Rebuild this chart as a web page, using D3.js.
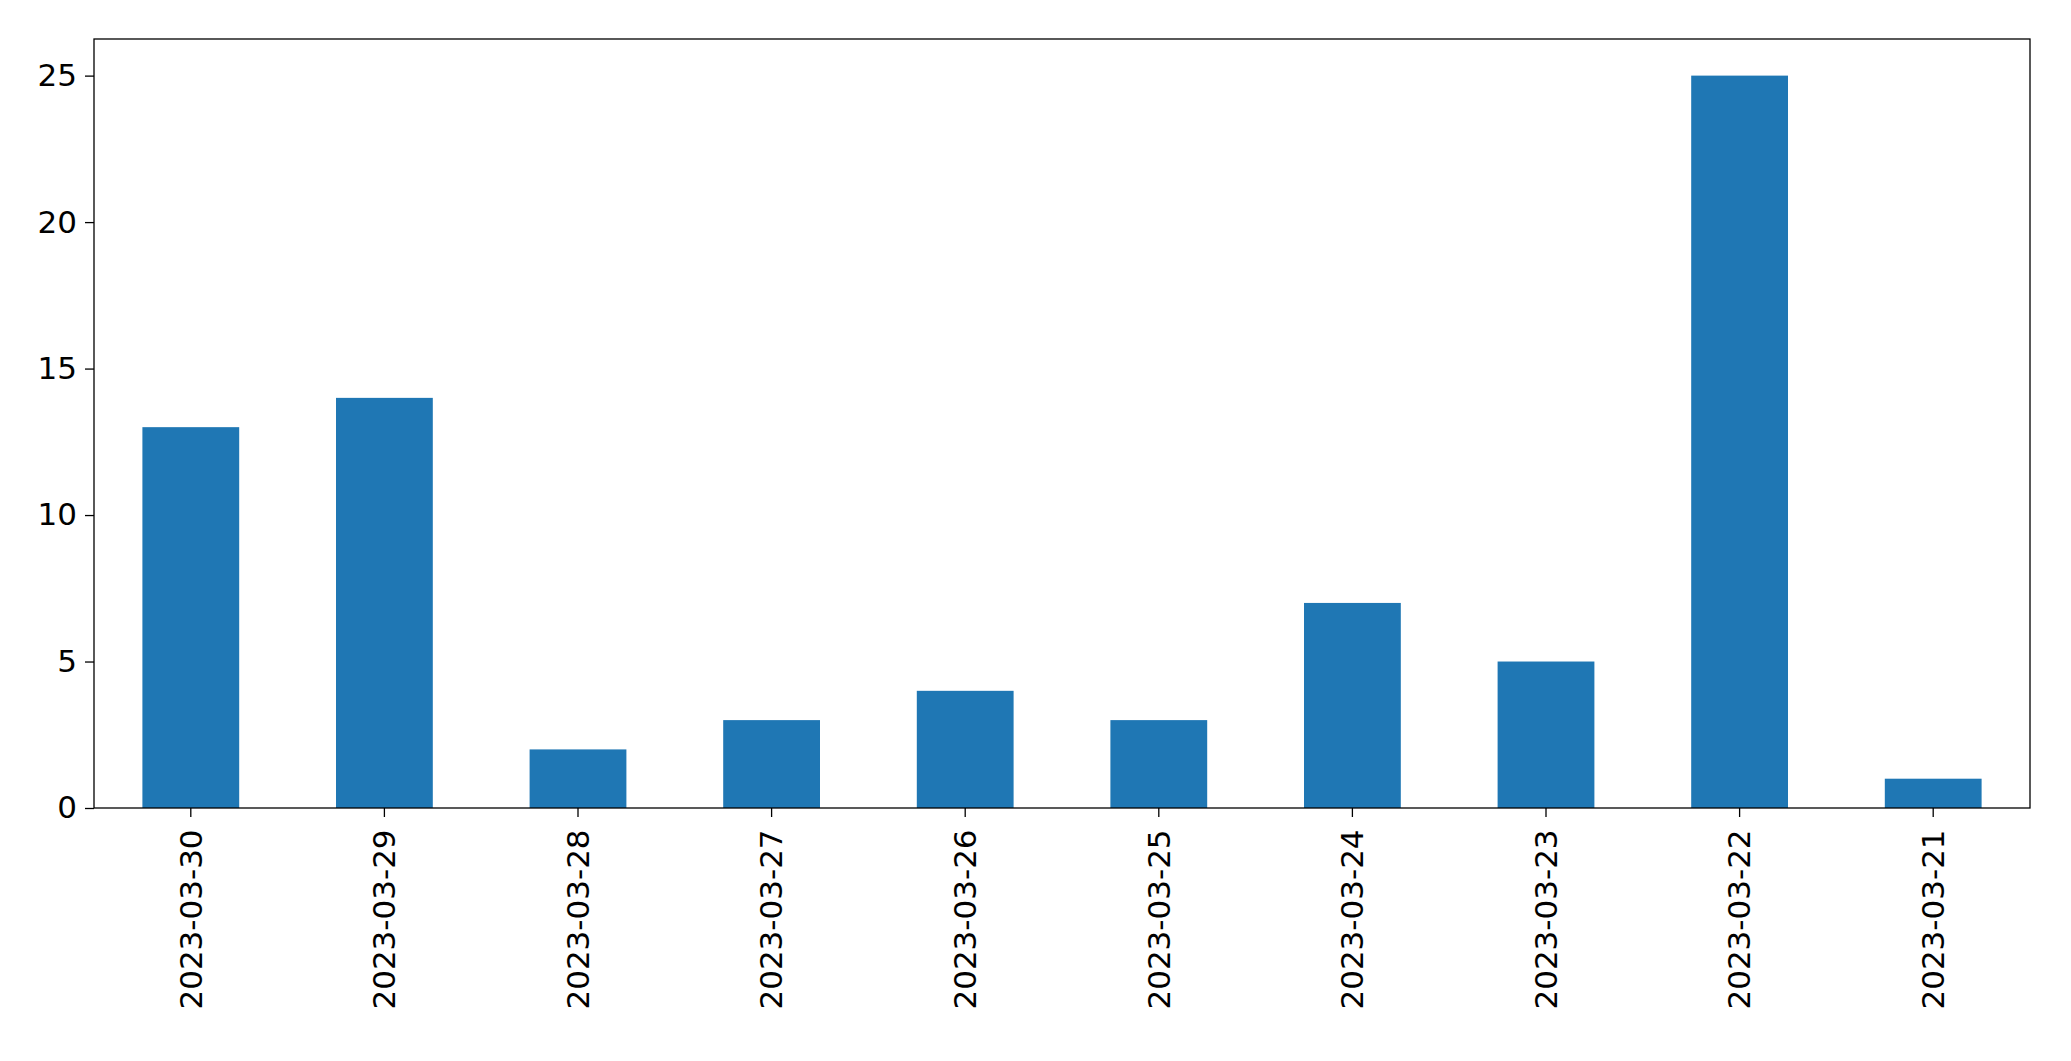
<!DOCTYPE html><html><head><script src="https://cdn.jsdelivr.net/npm/d3@7"></script>
<style>body{margin:0;background:#fff}</style></head><body><script>
const categories=["2023-03-30","2023-03-29","2023-03-28","2023-03-27","2023-03-26","2023-03-25","2023-03-24","2023-03-23","2023-03-22","2023-03-21"];
const values=[13,14,2,3,4,3,7,5,25,1];
const yTicks=[0,5,10,15,20,25];
const W=2071,H=1061,m={l:94,r:41,t:39,b:253};
const svg=d3.select("body").append("svg").attr("width",W).attr("height",H);
const x=d3.scaleBand().domain(categories).range([m.l,W-m.r]).paddingInner(0.5).paddingOuter(0.25);
const y=d3.scaleLinear().domain([0,26.25]).range([H-m.b,m.t]);
svg.selectAll("rect.b").data(values).join("rect").attr("x",(d,i)=>x(categories[i])).attr("width",x.bandwidth())
 .attr("y",d=>y(d)).attr("height",d=>y(0)-y(d)).attr("fill","#1f77b4");
const font="DejaVu Sans";
const ya=svg.append("g").attr("transform",`translate(${m.l},0)`).call(d3.axisLeft(y).tickValues(yTicks).tickSize(9).tickPadding(8));
const xa=svg.append("g").attr("transform",`translate(0,${H-m.b})`).call(d3.axisBottom(x).tickSize(9).tickPadding(8));
[ya,xa].forEach(a=>{a.select(".domain").remove();a.selectAll("line").attr("stroke","#000").attr("stroke-width",1.3);a.selectAll("text").attr("font-family",font).attr("font-size",31).attr("fill","#000");});
xa.selectAll("text").attr("transform","rotate(-90)").attr("text-anchor","end").attr("dx","-0.4em").attr("dy","-0.2em").attr("y",0).attr("x",-9);
xa.selectAll("text").attr("dy","0.35em");
svg.append("rect").attr("x",m.l).attr("y",m.t).attr("width",W-m.l-m.r).attr("height",H-m.t-m.b).attr("fill","none").attr("stroke","#000").attr("stroke-width",1.3);
</script></body></html>
